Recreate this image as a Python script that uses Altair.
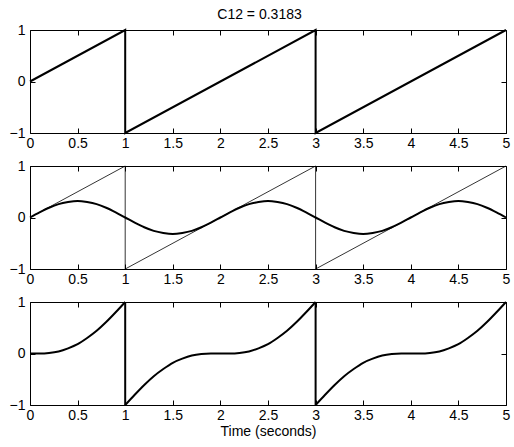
import altair as alt
import pandas as pd

# ---- data ----
title_text = "C12 = 0.3183"
x_ticks = [0, 0.5, 1, 1.5, 2, 2.5, 3, 3.5, 4, 4.5, 5]
y_ticks = [-1, 0, 1]

# sawtooth (corner points)
saw_t = [0, 1, 1, 3, 3, 5]
saw_v = [0, 1, -1, 1, -1, 1]

# jumps of the sawtooth
jump_t = [1, 3]
jump_lo = [-1, -1]
jump_hi = [1, 1]

# fundamental component (panel 2), sampled every 0.1 s
sine_t = [round(i * 0.1, 1) for i in range(51)]
sine_v = [0, .10, .19, .26, .30, .32, .30, .26, .19, .10,
          0, -.10, -.19, -.26, -.30, -.32, -.30, -.26, -.19, -.10,
          0, .10, .19, .26, .30, .32, .30, .26, .19, .10,
          0, -.10, -.19, -.26, -.30, -.32, -.30, -.26, -.19, -.10,
          0, .10, .19, .26, .30, .32, .30, .26, .19, .10,
          0]

# residual (panel 3), three segments between the jumps
res_a_t = [round(i * 0.1, 1) for i in range(0, 11)]
res_a_v = [0, .00, .01, .04, .10, .18, .30, .44, .61, .80, 1.0]
res_b_t = [round(i * 0.1, 1) for i in range(10, 31)]
res_b_v = [-1, -.80, -.61, -.44, -.30, -.18, -.10, -.04, -.01, -.00,
           0, .00, .01, .04, .10, .18, .30, .44, .61, .80, 1.0]
res_c_t = [round(i * 0.1, 1) for i in range(30, 51)]
res_c_v = [-1, -.80, -.61, -.44, -.30, -.18, -.10, -.04, -.01, -.00,
           0, .00, .01, .04, .10, .18, .30, .44, .61, .80, 1.0]

# ---- tables ----
saw_df = pd.DataFrame({"t": saw_t, "v": saw_v, "i": range(len(saw_t))})
jump_df = pd.DataFrame({"t": jump_t, "lo": jump_lo, "hi": jump_hi})
sine_df = pd.DataFrame({"t": sine_t, "v": sine_v})
res_df = pd.concat([
    pd.DataFrame({"t": res_a_t, "v": res_a_v, "seg": "a"}),
    pd.DataFrame({"t": res_b_t, "v": res_b_v, "seg": "b"}),
    pd.DataFrame({"t": res_c_t, "v": res_c_v, "seg": "c"}),
])

FONT = "Liberation Sans"
FS = 14
W, H = 476, 103
TK = 5

xscale = alt.Scale(domain=[0, 5], nice=False, zero=False)
yscale = alt.Scale(domain=[-1, 1], nice=False, zero=False)


def x_axis(title=None):
    kw = dict(values=x_ticks, format="~g", orient="bottom", domain=False,
              grid=False, tickSize=TK, offset=-TK, labelPadding=3,
              labelFont=FONT, labelFontSize=FS, labelColor="black",
              tickColor="black", labelFlush=False)
    if title:
        kw.update(title=title, titleFont=FONT, titleFontSize=FS,
                  titleFontWeight="normal", titleColor="black", titlePadding=2)
    else:
        kw.update(title=None)
    return alt.Axis(**kw)


def x_axis_top():
    return alt.Axis(values=x_ticks, orient="top", domain=False, grid=False,
                    tickSize=TK, offset=-TK, labels=False, title=None,
                    tickColor="black")


def y_axis():
    return alt.Axis(values=y_ticks, format="~g", orient="left", domain=False,
                    grid=False, tickSize=TK, offset=-TK, labelPadding=5,
                    labelFont=FONT, labelFontSize=FS, labelColor="black",
                    tickColor="black", title=None, labelFlush=False)


def y_axis_right():
    return alt.Axis(values=y_ticks, orient="right", domain=False, grid=False,
                    tickSize=TK, offset=-TK, labels=False, title=None,
                    tickColor="black")


def axes_layers(xtitle=None):
    bl = alt.Chart(saw_df).mark_point(opacity=0).encode(
        x=alt.X("t:Q", scale=xscale, axis=x_axis(xtitle)),
        y=alt.Y("v:Q", scale=yscale, axis=y_axis()),
    )
    tr = alt.Chart(saw_df).mark_point(opacity=0).encode(
        x=alt.X("t:Q", scale=xscale, axis=x_axis_top()),
        y=alt.Y("v:Q", scale=yscale, axis=y_axis_right()),
    )
    return [bl, tr]


def saw_line(width):
    return alt.Chart(saw_df).mark_line(color="black", strokeWidth=width).encode(
        x=alt.X("t:Q", scale=xscale, axis=None),
        y=alt.Y("v:Q", scale=yscale, axis=None),
        order="i:Q",
    )


def panel(layers, xtitle=None):
    return alt.layer(*layers, *axes_layers(xtitle)).resolve_axis(
        x="independent", y="independent"
    ).properties(width=W, height=H)


p1 = panel([saw_line(2)])

sine = alt.Chart(sine_df).mark_line(color="black", strokeWidth=2,
                                    interpolate="monotone").encode(
    x=alt.X("t:Q", scale=xscale, axis=None),
    y=alt.Y("v:Q", scale=yscale, axis=None),
)
p2 = panel([saw_line(0.8), sine])

res = alt.Chart(res_df).mark_line(color="black", strokeWidth=2,
                                  interpolate="monotone").encode(
    x=alt.X("t:Q", scale=xscale, axis=None),
    y=alt.Y("v:Q", scale=yscale, axis=None),
    detail="seg:N",
)
jumps = alt.Chart(jump_df).mark_rule(color="black", strokeWidth=2).encode(
    x=alt.X("t:Q", scale=xscale, axis=None),
    y=alt.Y("lo:Q", scale=yscale, axis=None),
    y2="hi:Q",
)
p3 = panel([res, jumps], "Time (seconds)")

chart = alt.vconcat(p1, p2, p3, spacing=7).properties(
    title=alt.TitleParams(title_text, font=FONT, fontSize=FS,
                          fontWeight="normal", color="black",
                          anchor="middle", offset=1),
    padding={"left": 8, "top": 7, "right": 0, "bottom": 0},
    background="white",
).configure_view(
    stroke="black", strokeWidth=1
)

chart.save("out.html", embed_options={"renderer": "svg", "actions": False})
